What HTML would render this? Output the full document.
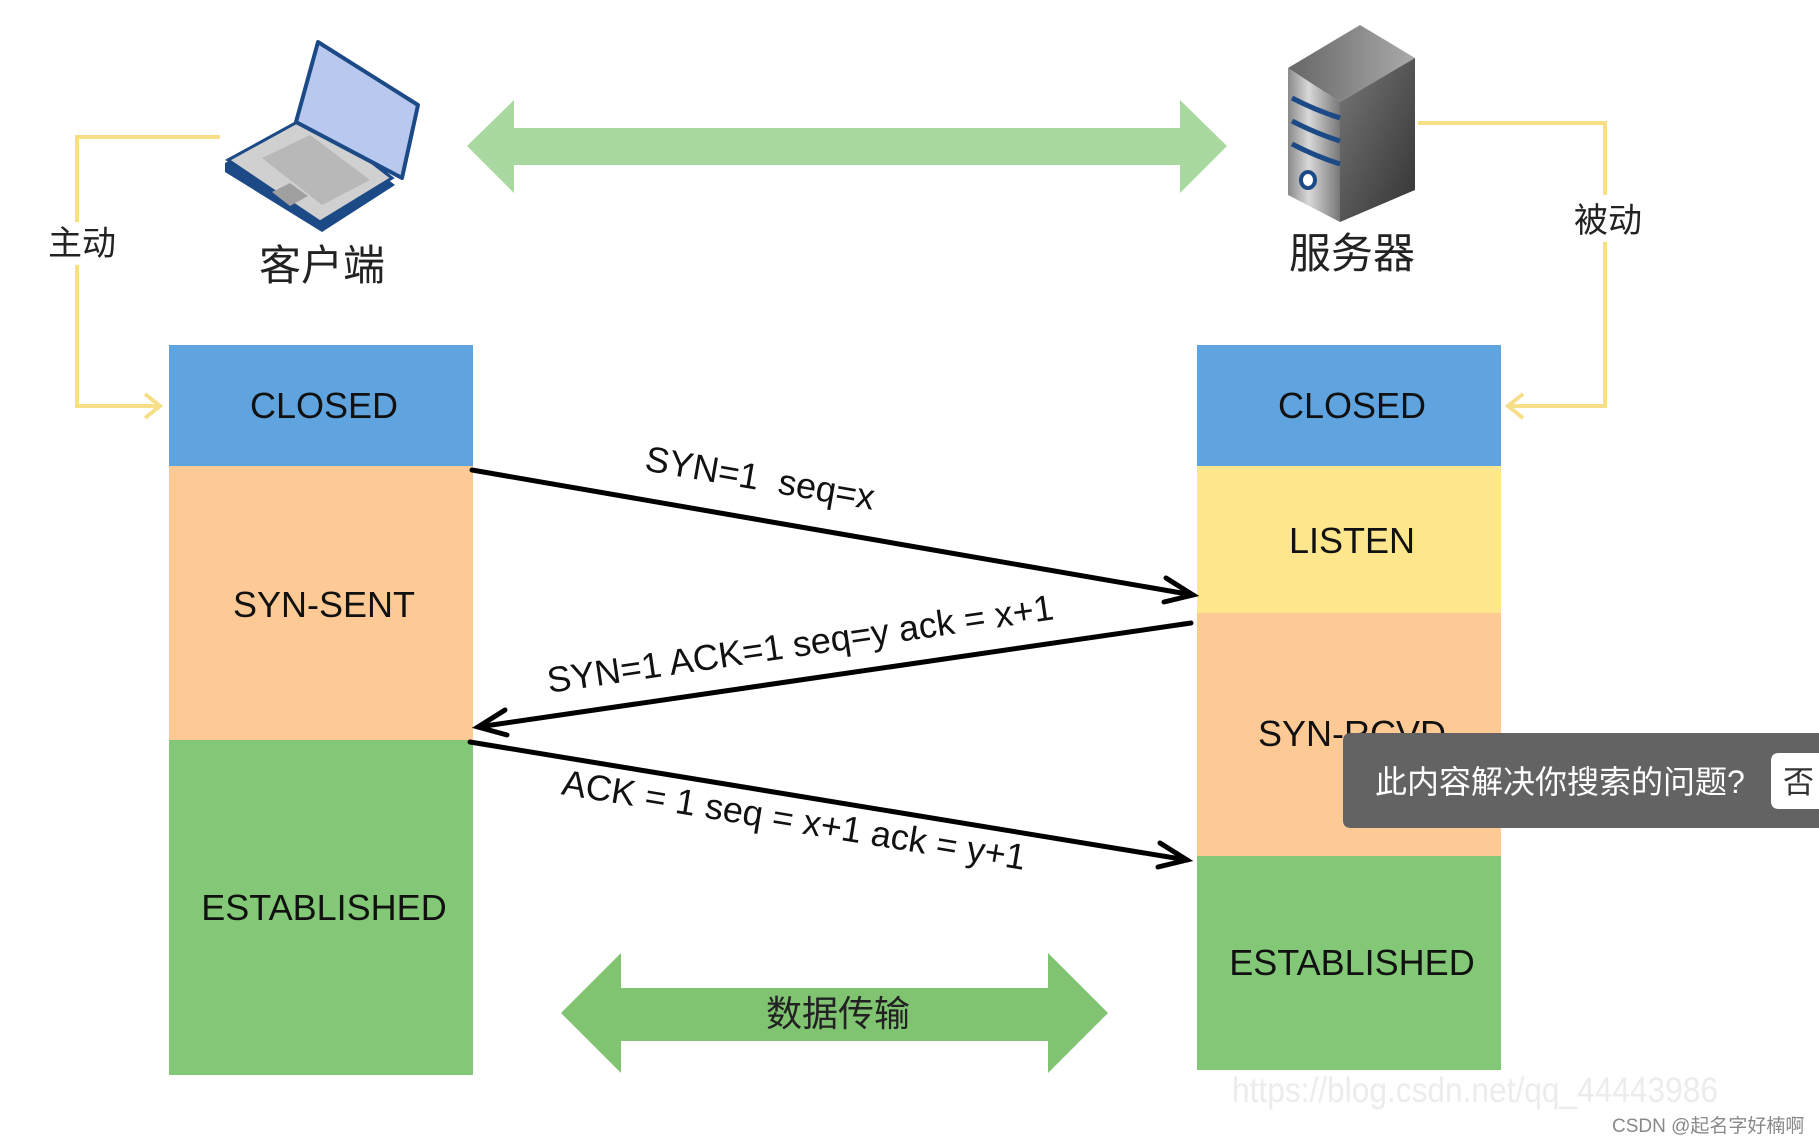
<!DOCTYPE html>
<html><head><meta charset="utf-8"><style>
html,body{margin:0;padding:0;background:#fff;}
svg{display:block;}
text{font-family:"Liberation Sans","Noto Sans CJK SC",sans-serif;}
</style></head><body>
<svg width="1819" height="1144" viewBox="0 0 1819 1144" xmlns="http://www.w3.org/2000/svg">
<defs>
<linearGradient id="sf" x1="0" x2="1"><stop offset="0" stop-color="#8a8a8a"/><stop offset="0.4" stop-color="#d8d8d8"/><stop offset="1" stop-color="#777"/></linearGradient>
<linearGradient id="ss" x1="0" x2="1" y1="0" y2="1"><stop offset="0" stop-color="#777"/><stop offset="1" stop-color="#333"/></linearGradient>
<linearGradient id="st" x1="0" x2="1"><stop offset="0" stop-color="#666"/><stop offset="1" stop-color="#aaa"/></linearGradient>
</defs>
<rect width="1819" height="1144" fill="#fff"/>

<polygon points="467,146 514,100 514,128 1180,128 1180,100 1227,146 1180,193 1180,165 514,165 514,193" fill="#a9d9a1"/>

<polyline points="220,137 77,137 77,222" fill="none" stroke="#f7df8a" stroke-width="4"/>
<polyline points="77,265 77,406 160,406" fill="none" stroke="#f7df8a" stroke-width="4"/>
<polyline points="145,394 160,406 145,418" fill="none" stroke="#f7df8a" stroke-width="4"/>
<text x="82" y="255" font-size="34" text-anchor="middle" fill="#222">主动</text>
<polyline points="1418,123 1605,123 1605,195" fill="none" stroke="#f7df8a" stroke-width="4"/>
<polyline points="1605,242 1605,406 1508,406" fill="none" stroke="#f7df8a" stroke-width="4"/>
<polyline points="1523,394 1508,406 1523,418" fill="none" stroke="#f7df8a" stroke-width="4"/>
<text x="1608" y="232" font-size="34" text-anchor="middle" fill="#222">被动</text>

<polygon points="225,163 310,120 395,185 322,232 225,172" fill="#1c4a86"/>
<polygon points="228,160 310,115 392,178 320,222" fill="#d0d0d0" stroke="#1c4a86" stroke-width="3"/>
<polygon points="262,158 310,135 370,180 322,205" fill="#b8b8b8"/>
<polygon points="272,192 290,183 308,196 290,206" fill="#a0a0a0"/>
<polygon points="318,42 418,105 402,178 296,122" fill="#b8c8ee" stroke="#1c4a86" stroke-width="4" stroke-linejoin="round"/>
<text x="322" y="280" font-size="42" text-anchor="middle" fill="#222">客户端</text>

<polygon points="1288,68 1360,25 1415,58 1340,102" fill="url(#st)"/>
<polygon points="1288,68 1340,102 1340,222 1288,195" fill="url(#sf)"/>
<polygon points="1340,102 1415,58 1415,190 1340,222" fill="url(#ss)"/>
<path d="M1292,98 Q1315,110 1340,118 M1292,121 Q1315,133 1340,141 M1292,144 Q1315,156 1340,164" stroke="#1c4a86" stroke-width="5" fill="none"/>
<ellipse cx="1308" cy="180" rx="7" ry="8" fill="#fff" stroke="#1c4a86" stroke-width="4"/>
<text x="1352" y="268" font-size="42" text-anchor="middle" fill="#222">服务器</text>

<rect x="169" y="345" width="304" height="122" fill="#5fa4df"/>
<rect x="169" y="466" width="304" height="275" fill="#fdca96"/>
<rect x="169" y="740" width="304" height="335" fill="#82c876"/>
<text x="324" y="418" font-size="36" text-anchor="middle" fill="#111">CLOSED</text>
<text x="324" y="617" font-size="36" text-anchor="middle" fill="#111">SYN-SENT</text>
<text x="324" y="920" font-size="36" text-anchor="middle" fill="#111">ESTABLISHED</text>

<rect x="1197" y="345" width="304" height="122" fill="#5fa4df"/>
<rect x="1197" y="466" width="304" height="148" fill="#fde68c"/>
<rect x="1197" y="613" width="304" height="244" fill="#fdca96"/>
<rect x="1197" y="856" width="304" height="214" fill="#82c876"/>
<text x="1352" y="418" font-size="36" text-anchor="middle" fill="#111">CLOSED</text>
<text x="1352" y="553" font-size="36" text-anchor="middle" fill="#111">LISTEN</text>
<text x="1352" y="746" font-size="36" text-anchor="middle" fill="#111">SYN-RCVD</text>
<text x="1352" y="975" font-size="36" text-anchor="middle" fill="#111">ESTABLISHED</text>

<g stroke="#000" stroke-width="5" fill="none" stroke-linecap="round">
<line x1="472" y1="470" x2="1193" y2="595"/>
<polyline points="1166,578 1193,595 1164,602"/>
<line x1="1191" y1="623" x2="478" y2="727"/>
<polyline points="505,710 478,727 507,735"/>
<line x1="470" y1="742" x2="1187" y2="860"/>
<polyline points="1160,843 1187,860 1158,867"/>
</g>
<text font-size="36" fill="#111" text-anchor="middle" transform="translate(758,490) rotate(9.8)" xml:space="preserve">SYN=1  seq=x</text>
<text font-size="36" fill="#111" text-anchor="middle" transform="translate(802,656) rotate(-8.3)">SYN=1 ACK=1 seq=y ack = x+1</text>
<text font-size="36" fill="#111" text-anchor="middle" transform="translate(792,832) rotate(9.3)">ACK = 1 seq = x+1 ack = y+1</text>

<polygon points="561,1013 621,953 621,988 1048,988 1048,953 1108,1013 1048,1073 1048,1041 621,1041 621,1073" fill="#80c472"/>
<text x="838" y="1026" font-size="36" text-anchor="middle" fill="#222">数据传输</text>

<text x="1232" y="1102" font-size="35" fill="#ececec" textLength="486" lengthAdjust="spacingAndGlyphs">https://blog.csdn.net/qq_44443986</text>
<text x="1612" y="1132" font-size="19" fill="#888">CSDN @起名字好楠啊</text>

<path d="M1343,741 Q1343,733 1351,733 L1819,733 L1819,828 L1351,828 Q1343,828 1343,820 Z" fill="#636363"/>
<text x="1375" y="793" font-size="32" fill="#fff">此内容解决你搜索的问题?</text>
<path d="M1771,761 Q1771,753 1779,753 L1819,753 L1819,809 L1779,809 Q1771,809 1771,801 Z" fill="#fff"/>
<text x="1783" y="793" font-size="31" fill="#333">否</text>
</svg>
</body></html>
